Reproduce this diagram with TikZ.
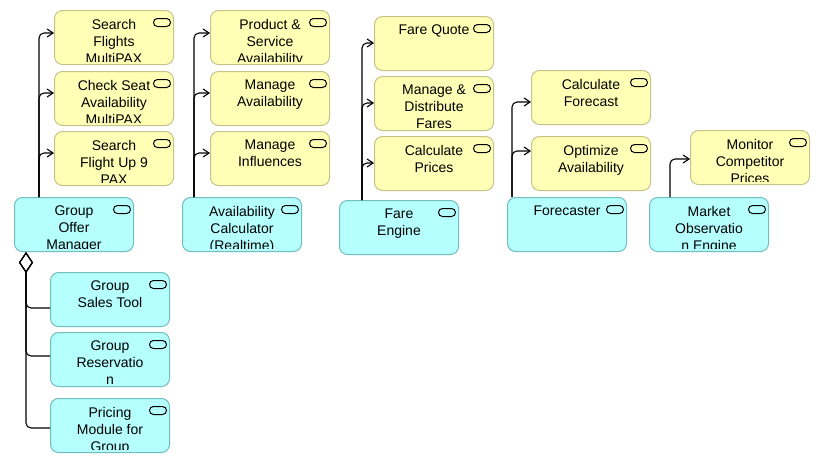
\documentclass[tikz,border=0pt]{standalone}
\usepackage{fontspec}
\setmainfont{Liberation Sans}
\usetikzlibrary{arrows.meta}
\definecolor{funcfill}{HTML}{FFFFB5}
\definecolor{funcline}{HTML}{C4C48A}
\definecolor{compfill}{HTML}{B5FFFF}
\definecolor{compline}{HTML}{72BDBD}
\begin{document}
\begin{tikzpicture}[x=1pt, y=-1pt, line width=1pt,
	etich/.style={anchor=north, align=center, inner sep=0pt, text=black,
		minimum width=0pt, minimum height=0pt, font=\fontsize{14}{17}\selectfont},
	icona/.style={draw=black, line width=1pt, rounded corners=4pt},
	elem/.style={rectangle, rounded corners=8pt, line width=1pt, anchor=north west,
		minimum width=119pt, minimum height=54pt, inner sep=0pt,
		path picture={
			\clip[sharp corners]([yshift=3.5pt]path picture bounding box.south west)
				rectangle (path picture bounding box.north east);
			\node[etich] at ([yshift=-8pt]path picture bounding box.north) {#1};
			\draw[icona]([xshift=-20pt,yshift=-8pt]path picture bounding box.north east)
				rectangle ++(17pt,-8pt);}},
	func/.style={elem={#1}, fill=funcfill, draw=funcline},
	comp/.style={elem={#1}, fill=compfill, draw=compline},
	flusso/.style={-{Straight Barb[length=6pt,width=8pt]}, rounded corners=5pt, black, line width=1.1pt},
	aggr/.style={{Diamond[open,length=21pt,width=14pt]}-, rounded corners=5pt, black, line width=1.1pt},
	]
	
	\fill[white](0,0) rectangle (820,463);
	\useasboundingbox (0,0) rectangle (820,463);
	
	%% ── Group Offer Manager ──────────────────────────────────────────────────
	\node[func={Search\\Flights\\MultiPAX}] (sf) at (54,10) {};
	\node[func={Check Seat\\Availability\\MultiPAX}] (cs) at (54,71) {};
	\node[func={Search\\Flight Up 9\\PAX}] (su) at (54,131) {};
	\node[comp={Group\\Offer\\Manager}] (gom) at (14,197) {};
	\draw[flusso](gom.north -| 39,0) |- (sf.west |- 0,33);
	\draw[flusso](gom.north -| 39,0) |- (cs.west |- 0,93);
	\draw[flusso](gom.north -| 39,0) |- (su.west |- 0,153);
	
	%% ── Componenti aggregati ─────────────────────────────────────────────────
	\node[comp={Group\\Sales Tool}] (gst) at (50,272) {};
	\node[comp={Group\\Reservatio\\n}] (grs) at (50,332) {};
	\node[comp={Pricing\\Module for\\Group}] (pmg) at (50,398) {};
	\draw[aggr](gom.south -| 26,0) |- (gst.west |- 0,308);
	\draw[aggr](gom.south -| 26,0) |- (grs.west |- 0,356);
	\draw[aggr](gom.south -| 26,0) |- (pmg.west |- 0,428);
	
	%% ── Availability Calculator ──────────────────────────────────────────────
	\node[func={Product \&\\Service\\Availability}] (psa) at (210,10) {};
	\node[func={Manage\\Availability}] (mav) at (210,71) {};
	\node[func={Manage\\Influences}] (mif) at (210,131) {};
	\node[comp={Availability\\Calculator\\(Realtime)}] (acr) at (182,197) {};
	\draw[flusso](acr.north -| 194,0) |- (psa.west |- 0,33);
	\draw[flusso](acr.north -| 194,0) |- (mav.west |- 0,93);
	\draw[flusso](acr.north -| 194,0) |- (mif.west |- 0,153);
	
	%% ── Fare Engine ──────────────────────────────────────────────────────────
	\node[func={Fare Quote}] (fq) at (374,16) {};
	\node[func={Manage \&\\Distribute\\Fares}] (mdf) at (374,76) {};
	\node[func={Calculate\\Prices}] (cp) at (374,136) {};
	\node[comp={Fare\\Engine}] (fe) at (339,200) {};
	\draw[flusso](fe.north -| 362,0) |- (fq.west |- 0,43);
	\draw[flusso](fe.north -| 362,0) |- (mdf.west |- 0,103);
	\draw[flusso](fe.north -| 362,0) |- (cp.west |- 0,163);
	
	%% ── Forecaster ───────────────────────────────────────────────────────────
	\node[func={Calculate\\Forecast}] (cf) at (531,70) {};
	\node[func={Optimize\\Availability}] (oa) at (531,136) {};
	\node[comp={Forecaster}] (fc) at (507,197) {};
	\draw[flusso](fc.north -| 512,0) |- (cf.west |- 0,102);
	\draw[flusso](fc.north -| 512,0) |- (oa.west |- 0,151);
	
	%% ── Market Observation Engine ────────────────────────────────────────────
	\node[func={Monitor\\Competitor\\Prices}] (mcp) at (690,130) {};
	\node[comp={Market\\Observatio\\n Engine}] (moe) at (649,197) {};
	\draw[flusso](moe.north -| 670,0) |- (mcp.west |- 0,159);
	
\end{tikzpicture}
\end{document}
